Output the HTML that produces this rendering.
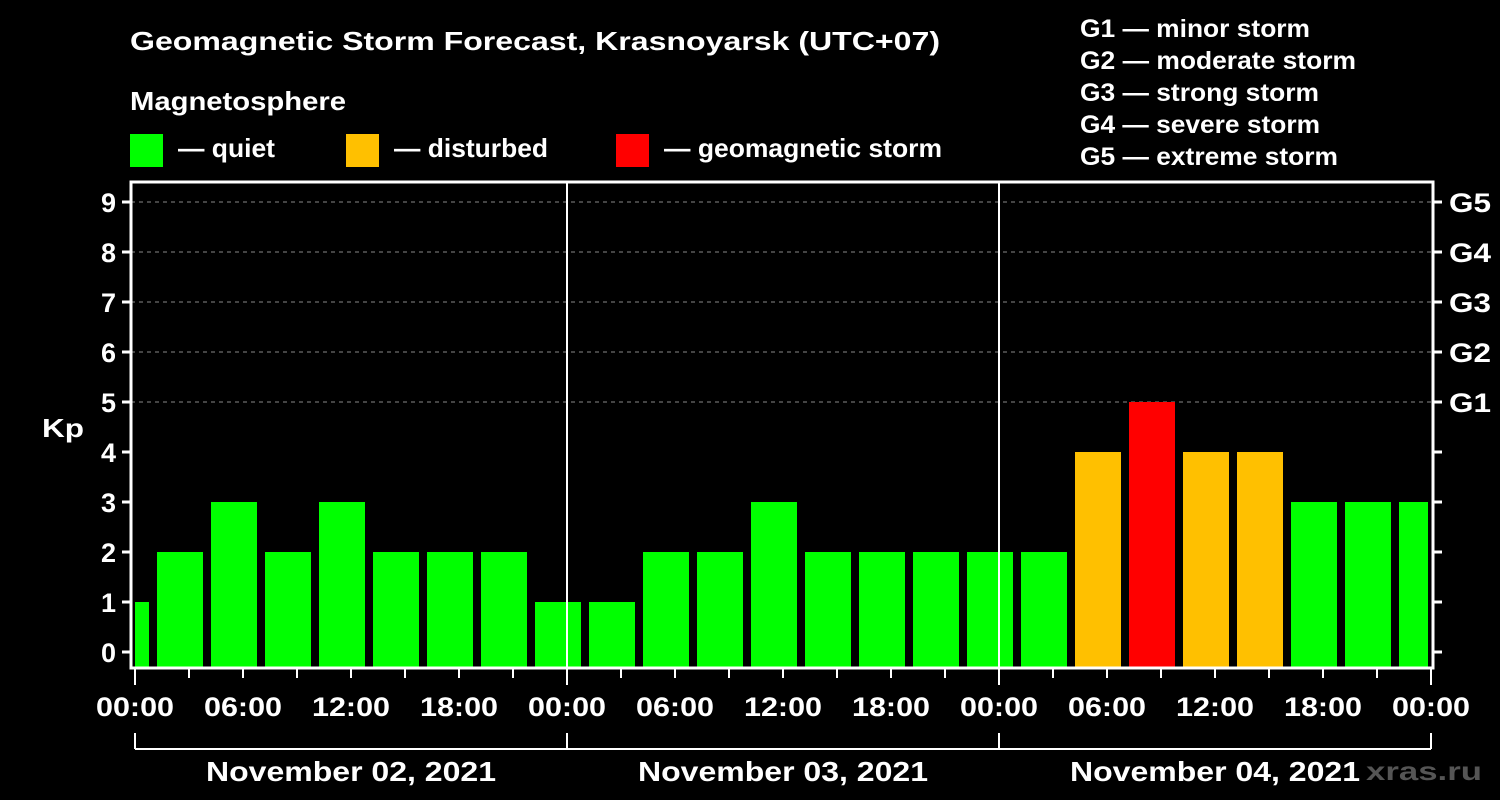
<!DOCTYPE html>
<html><head><meta charset="utf-8"><style>
body{margin:0;background:#000;}
svg{display:block;font-family:"Liberation Sans",Arial,sans-serif;font-weight:bold;}
</style></head><body>
<svg id="c" width="1500" height="800" xmlns="http://www.w3.org/2000/svg">
<rect width="1500" height="800" fill="#000"/>
<text x="130" y="50" fill="#fff" font-size="26" textLength="810" lengthAdjust="spacingAndGlyphs">Geomagnetic Storm Forecast, Krasnoyarsk (UTC+07)</text>
<text x="130" y="110" fill="#fff" font-size="26" textLength="216" lengthAdjust="spacingAndGlyphs">Magnetosphere</text>
<g><rect x="130" y="134" width="33" height="33" fill="#00ff00"/><text x="178" y="157" fill="#fff" font-size="26" textLength="97" lengthAdjust="spacingAndGlyphs">— quiet</text></g>
<g><rect x="346" y="134" width="33" height="33" fill="#ffc000"/><text x="394" y="157" fill="#fff" font-size="26" textLength="154" lengthAdjust="spacingAndGlyphs">— disturbed</text></g>
<g><rect x="616" y="134" width="33" height="33" fill="#ff0000"/><text x="664" y="157" fill="#fff" font-size="26" textLength="278" lengthAdjust="spacingAndGlyphs">— geomagnetic storm</text></g>
<g fill="#fff" font-size="25">
<text x="1080" y="37" textLength="230" lengthAdjust="spacingAndGlyphs">G1 — minor storm</text>
<text x="1080" y="69" textLength="276" lengthAdjust="spacingAndGlyphs">G2 — moderate storm</text>
<text x="1080" y="101" textLength="239" lengthAdjust="spacingAndGlyphs">G3 — strong storm</text>
<text x="1080" y="133" textLength="240" lengthAdjust="spacingAndGlyphs">G4 — severe storm</text>
<text x="1080" y="165" textLength="258" lengthAdjust="spacingAndGlyphs">G5 — extreme storm</text>
</g>
<text x="42" y="437" fill="#fff" font-size="26" textLength="42" lengthAdjust="spacingAndGlyphs">Kp</text>
<text x="1366" y="780" fill="#555" font-size="26" textLength="116" lengthAdjust="spacingAndGlyphs">xras.ru</text>
<g id="plot"></g>
</svg>
<script>
const kpValues=[1,2,3,2,3,2,2,2,1,1,2,2,3,2,2,2,2,2,4,5,4,4,3,3,3];
const firstSlotHour=-2;
const slotHours=3;
const yTicks=[0,1,2,3,4,5,6,7,8,9];
const gLabels=["G1","G2","G3","G4","G5"];
const xLabels=["00:00","06:00","12:00","18:00","00:00","06:00","12:00","18:00","00:00","06:00","12:00","18:00","00:00"];
const dateLabels=["November 02, 2021","November 03, 2021","November 04, 2021"];

const NS="http://www.w3.org/2000/svg";
const g=document.getElementById('plot');
const x0=135,x1=1431,hours=72;
const X=h=>x0+(x1-x0)*h/hours;
const Y=v=>652-50*v;
const yTop=182,yBot=668;
function el(t,a,txt){const e=document.createElementNS(NS,t);for(const k in a)e.setAttribute(k,a[k]);if(txt!==undefined)e.textContent=txt;g.appendChild(e);return e;}
yTicks.forEach(v=>{
 if(v>=5){const l=el('line',{x1:131,x2:1433,y1:Y(v),y2:Y(v),stroke:'#888','stroke-width':1,'stroke-dasharray':'4,4'});
 
 }
});
kpValues.forEach((v,i)=>{
 const s=firstSlotHour+i*slotHours;
 let a=Math.max(X(s)+4,x0), b=Math.min(X(s+slotHours)-4,1428);
 if(b<=a)return;
 const col=v>=5?'#ff0000':(v>=4?'#ffc000':'#00ff00');
 const r=el('rect',{x:a,y:Y(v),width:b-a,height:yBot-Y(v),fill:col});
 
 
});
[24,48].forEach(h=>{const l=el('line',{x1:X(h),x2:X(h),y1:yTop,y2:yBot,stroke:'#fff','stroke-width':2});
 
 });
const f=el('rect',{x:131,y:yTop,width:1302,height:yBot-yTop,fill:'none',stroke:'#fff','stroke-width':3});


yTicks.forEach(v=>{
 el('line',{x1:122,x2:131,y1:Y(v),y2:Y(v),stroke:'#fff','stroke-width':3});
 el('line',{x1:1433,x2:1442,y1:Y(v),y2:Y(v),stroke:'#fff','stroke-width':3});
 const t=el('text',{x:116,y:Y(v)+10,fill:'#fff','font-size':27,'text-anchor':'end'},String(v));
 
 
});
gLabels.forEach((s,i)=>{
 const t=el('text',{x:1449,y:Y(5+i)+10,fill:'#fff','font-size':27,textLength:42,lengthAdjust:'spacingAndGlyphs'},s);
 
 
});
for(let h=0;h<=hours;h+=3){
 const major=h%24===0;
 el('line',{x1:X(h),x2:X(h),y1:yBot,y2:major?685:678,stroke:'#fff','stroke-width':2});
}
xLabels.forEach((s,i)=>{
 const t=el('text',{x:X(i*6)-39,y:716,fill:'#fff','font-size':27,textLength:78,lengthAdjust:'spacingAndGlyphs'},s);
 
 
});
el('line',{x1:x0,x2:x1,y1:749,y2:749,stroke:'#fff','stroke-width':2});
[0,24,48,72].forEach(h=>el('line',{x1:X(h),x2:X(h),y1:733,y2:749,stroke:'#fff','stroke-width':2}));
dateLabels.forEach((s,i)=>{
 const t=el('text',{x:X(i*24+12)-145,y:781,fill:'#fff','font-size':28,textLength:290,lengthAdjust:'spacingAndGlyphs'},s);
 
 
});
</script>
</body></html>
